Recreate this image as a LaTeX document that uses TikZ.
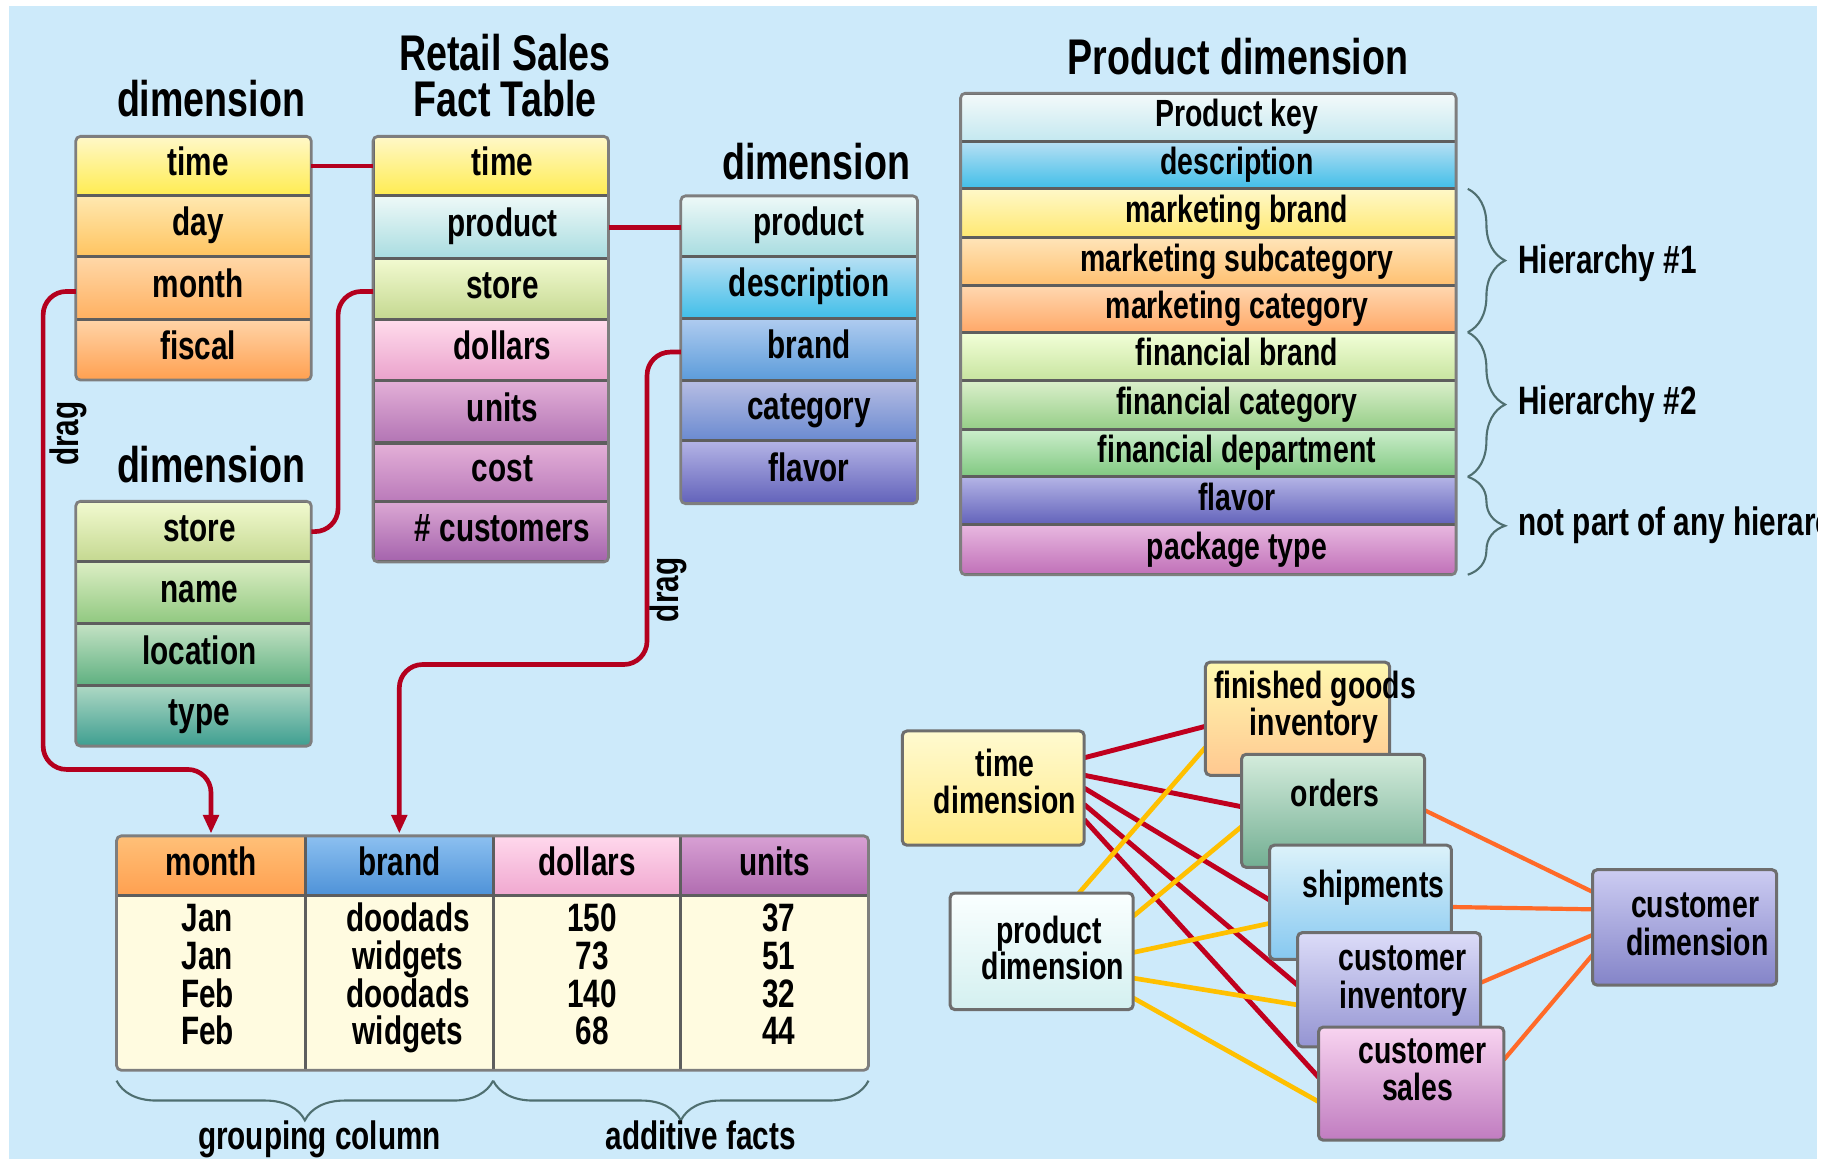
\documentclass[tikz,border=0pt]{standalone}
\usepackage{fontspec}
\setmainfont{Liberation Sans}[FakeStretch=0.75]
\usetikzlibrary{arrows.meta,decorations.pathreplacing}
\pgfdeclarelayer{bg}
\pgfdeclarelayer{links}
\pgfsetlayers{bg,links,main}

% general colours
\definecolor{bgblue}{HTML}{CDEAFA}
\definecolor{sepgray}{HTML}{5E5E5E}
\definecolor{framegray}{HTML}{7E7E7E}
\definecolor{netgray}{HTML}{6E6E6E}
\definecolor{linkred}{HTML}{B4001E}
\definecolor{netred}{HTML}{C0001E}
\definecolor{netgold}{HTML}{FFC000}
\definecolor{netorange}{HTML}{FF6A28}
\definecolor{bracegray}{HTML}{4F6F70}
\definecolor{cream}{HTML}{FFFBE0}
% row colours (top / bottom of each gradient)
\definecolor{yelT}{HTML}{FFF8C8}\definecolor{yelB}{HTML}{FFEC50}
\definecolor{dayT}{HTML}{FFE8B0}\definecolor{dayB}{HTML}{FFC460}
\definecolor{monT}{HTML}{FFD8A8}\definecolor{monB}{HTML}{FFB060}
\definecolor{fisT}{HTML}{FFD4A8}\definecolor{fisB}{HTML}{FFA050}
\definecolor{prdT}{HTML}{EEF9F8}\definecolor{prdB}{HTML}{A8DCE0}
\definecolor{stoT}{HTML}{F2FAD0}\definecolor{stoB}{HTML}{C4D890}
\definecolor{dolT}{HTML}{FFDCEC}\definecolor{dolB}{HTML}{EAA2CC}
\definecolor{uniT}{HTML}{E4B0D8}\definecolor{uniB}{HTML}{B274B4}
\definecolor{cstT}{HTML}{E4B0D8}\definecolor{cstB}{HTML}{BA7ABA}
\definecolor{cusT}{HTML}{DCA8D4}\definecolor{cusB}{HTML}{A462AC}
\definecolor{desT}{HTML}{B8E0F4}\definecolor{desB}{HTML}{40BEE8}
\definecolor{brnT}{HTML}{B0CCF0}\definecolor{brnB}{HTML}{5C9CDA}
\definecolor{catT}{HTML}{B8BEE4}\definecolor{catB}{HTML}{6A8AD0}
\definecolor{flvT}{HTML}{B4B4E6}\definecolor{flvB}{HTML}{6262BA}
\definecolor{namT}{HTML}{DCEEC4}\definecolor{namB}{HTML}{90C880}
\definecolor{locT}{HTML}{C4E2C4}\definecolor{locB}{HTML}{5EB080}
\definecolor{typT}{HTML}{AED8C4}\definecolor{typB}{HTML}{3E9E90}
\definecolor{pkT}{HTML}{F4FAFA}\definecolor{pkB}{HTML}{C4E8F0}
\definecolor{mbT}{HTML}{FFF8C8}\definecolor{mbB}{HTML}{FFE870}
\definecolor{msT}{HTML}{FFE4B8}\definecolor{msB}{HTML}{FFC070}
\definecolor{mcT}{HTML}{FFD8B0}\definecolor{mcB}{HTML}{FFA868}
\definecolor{fbT}{HTML}{F2FFD8}\definecolor{fbB}{HTML}{C8E4A0}
\definecolor{fcT}{HTML}{DCF0CC}\definecolor{fcB}{HTML}{96CE88}
\definecolor{fdT}{HTML}{CCEECC}\definecolor{fdB}{HTML}{80C880}
\definecolor{ptT}{HTML}{E8B8E0}\definecolor{ptB}{HTML}{C070B8}
\definecolor{bmT}{HTML}{FFC078}\definecolor{bmB}{HTML}{FFA050}
\definecolor{bbT}{HTML}{8CC0F0}\definecolor{bbB}{HTML}{4E92D8}
\definecolor{bdT}{HTML}{FFD8EC}\definecolor{bdB}{HTML}{F0A8D0}
\definecolor{buT}{HTML}{D8A0D4}\definecolor{buB}{HTML}{B06CB0}
% network boxes
\definecolor{tmT}{HTML}{FFFAD0}\definecolor{tmB}{HTML}{FFEA88}
\definecolor{fgT}{HTML}{FFF8B0}\definecolor{fgB}{HTML}{FFC890}
\definecolor{orT}{HTML}{D4ECDC}\definecolor{orB}{HTML}{72AE92}
\definecolor{shT}{HTML}{DCF2FA}\definecolor{shB}{HTML}{86C8F0}
\definecolor{ciT}{HTML}{DCDCF8}\definecolor{ciB}{HTML}{9494D2}
\definecolor{csT}{HTML}{F8D4F0}\definecolor{csB}{HTML}{C07CC0}
\definecolor{pdT}{HTML}{FAFFFF}\definecolor{pdB}{HTML}{D4F0F0}
\definecolor{cdT}{HTML}{CCCCF2}\definecolor{cdB}{HTML}{8484C8}

% a table of shaded rows: left x, right x, text x, top y, bottom y, rows
\newcommand\rowtable[6]{%
  \begin{scope}
    \clip[rounded corners=2pt] (#1,#4) rectangle (#2,#5);
    \pgfmathsetmacro\rw{(#2-#1)/2}
    \foreach \nm/\ya/\yb/\ct/\cb/\tx in {#6}{
      \pgfmathsetmacro\rh{(\yb-\ya)/2}
      \node[cell,top color=\ct,bottom color=\cb,minimum width=\rw pt,minimum height=\rh pt] (\nm) at (#1,\ya) {};
      \node[ctext] (\nm-t) at (#3,{(\ya+\yb)/2}) {\tx};
    }
  \end{scope}
  \draw[frame] (#1,#4) rectangle (#2,#5);
}

\begin{document}
\begin{tikzpicture}[x=0.5pt,y=-0.5pt,
  cell/.style={draw=sepgray,line width=1.3pt,inner sep=0pt,outer sep=0pt,anchor=north west},
  frame/.style={draw=framegray,line width=1.2pt,rounded corners=2pt},
  ctext/.style={font=\fontsize{17}{17}\selectfont\bfseries,inner sep=0pt,text height=0.95em,text depth=0.13em},
  ttext/.style={font=\fontsize{21.5}{21.5}\selectfont\bfseries,inner sep=0pt,text height=0.95em,text depth=0.13em},
  ntext/.style={font=\fontsize{16.25}{16.25}\selectfont\bfseries,inner sep=0pt,text height=0.95em,text depth=0.13em},
  nbox/.style={draw=netgray,line width=1.3pt,rounded corners=2pt,inner sep=0pt,outer sep=0pt,anchor=north west},
  link/.style={draw=linkred,line width=2pt},
  arrowed/.style={-{Triangle[length=8pt,width=6.5pt]},shorten >=1pt},
  brc/.style={decorate,decoration={brace,amplitude=#1},draw=bracegray,line width=0.9pt},
  nred/.style={draw=netred,line width=2.1pt},
  ngold/.style={draw=netgold,line width=2pt},
  norange/.style={draw=netorange,line width=1.8pt}]

\begin{pgfonlayer}{bg}
  \fill[white] (0,0) rectangle (1568,994);
  \fill[bgblue] (7.7,5.1) rectangle (1558.6,994);
\end{pgfonlayer}
\useasboundingbox (0,0) rectangle (1568,994);
\clip (7.7,5.1) rectangle (1558.6,994);

% ---------- titles ----------
\node[ttext] (tdtitle) at (181,92) {dimension};
\node[ttext] (ftitle1) at (433,52) {Retail Sales};
\node[ttext] (ftitle2) at (433,92) {Fact Table};
\node[ttext] (pdtitle) at (700,146) {dimension};
\node[ttext] (sdtitle) at (181,406) {dimension};
\node[ttext] (pbtitle) at (1062,56) {Product dimension};

% ---------- time dimension ----------
\rowtable{65}{267}{170}{117}{326}{tdtime/117/168/yelT/yelB/time, tdday/168/220/dayT/dayB/day, tdmonth/220/274/monT/monB/month, tdfiscal/274/326/fisT/fisB/fiscal}

% ---------- fact table ----------
\rowtable{320}{522}{431}{117}{482}{ftime/117/168/yelT/yelB/time, fproduct/168/222/prdT/prdB/product, fstore/222/274/stoT/stoB/store, fdollars/274/326/dolT/dolB/dollars, funits/326/380/uniT/uniB/units, fcost/380/430/cstT/cstB/cost, fcust/430/482/cusT/cusB/\# customers}

% ---------- product dimension (small) ----------
\rowtable{584}{787}{694}{168}{432}{pdproduct/168/220/prdT/prdB/product, pddesc/220/273/desT/desB/description, pdbrand/273/326/brnT/brnB/brand, pdcat/326/378/catT/catB/category, pdflavor/378/432/flvT/flvB/flavor}

% ---------- store dimension ----------
\rowtable{65}{267}{171}{430}{640}{sdstore/430/482/stoT/stoB/store, sdname/482/535/namT/namB/name, sdloc/535/588/locT/locB/location, sdtype/588/640/typT/typB/type}

% ---------- product dimension (full) ----------
\begin{scope}[ctext/.append style={font=\fontsize{16.25}{16.25}\selectfont\bfseries}]
\rowtable{824}{1249}{1061}{80}{493}{pbkey/80/121/pkT/pkB/Product key, pbdesc/121/162/desT/desB/description, pbmbrand/162/204/mbT/mbB/marketing brand, pbmsub/204/245/msT/msB/marketing subcategory, pbmcat/245/285/mcT/mcB/marketing category, pbfbrand/285/326/fbT/fbB/financial brand, pbfcat/326/368/fcT/fcB/financial category, pbfdept/368/409/fdT/fdB/financial department, pbflavor/409/450/flvT/flvB/flavor, pbpack/450/493/ptT/ptB/package type}
\end{scope}

% hierarchy braces
\draw[brc=16pt] ([xshift=5pt]pbmbrand.north east) -- ([xshift=5pt]pbmcat.south east);
\draw[brc=16pt] ([xshift=5pt]pbfbrand.north east) -- ([xshift=5pt]pbfdept.south east);
\draw[brc=16pt] ([xshift=5pt]pbflavor.north east) -- ([xshift=5pt]pbpack.south east);
\node[ctext,anchor=west] (hier1) at (1302,226) {Hierarchy \#1};
\node[ctext,anchor=west] (hier2) at (1302,347) {Hierarchy \#2};
\node[ctext,anchor=west] (hier3) at (1302,451) {not part of any hierarchy};

% ---------- result table ----------
\begin{scope}
  \clip[rounded corners=2pt] (100,717) rectangle (745,918);
  \foreach \nm/\xa/\xb/\ct/\cb/\tx in {bmonth/100/262/bmT/bmB/month, bbrand/262/423/bbT/bbB/brand, bdollars/423/584/bdT/bdB/dollars, bunits/584/745/buT/buB/units}{
    \pgfmathsetmacro\cw{(\xb-\xa)/2}
    \node[cell,top color=\ct,bottom color=\cb,minimum width=\cw pt,minimum height=25.5pt] (\nm) at (\xa,717) {};
    \node[cell,fill=cream,minimum width=\cw pt,minimum height=75pt] (\nm-body) at (\xa,768) {};
    \node[ctext] (\nm-t) at ({(\xa+\xb)/2},743) {\tx};
  }
\end{scope}
\draw[frame] (100,717) rectangle (745,918);
\foreach \col/\cx/\ra/\rb/\rc/\rd in {1/178/Jan/Jan/Feb/Feb, 2/350/doodads/widgets/doodads/widgets, 3/508/150/73/140/68, 4/668/37/51/32/44}{
  \node[ctext] (cell\col-1) at (\cx,791) {\ra};
  \node[ctext] (cell\col-2) at (\cx,823) {\rb};
  \node[ctext] (cell\col-3) at (\cx,856) {\rc};
  \node[ctext] (cell\col-4) at (\cx,888) {\rd};
}
\draw[brc=17pt] ([yshift=-4.5pt]bbrand-body.south east) -- ([yshift=-4.5pt]bmonth-body.south west);
\draw[brc=17pt] ([yshift=-4.5pt]bunits-body.south east) -- ([yshift=-4.5pt]bdollars-body.south west);
\node[ctext] (grouping) at (274,978) {grouping column};
\node[ctext] (additive) at (601,978) {additive facts};

% ---------- joins and drag paths ----------
\draw[link] (tdtime.east) -- (ftime.west);
\draw[link] (fproduct.east) -- (pdproduct.west |- fproduct.east);
\draw[link,rounded corners=10pt] (sdstore.east) -- (290,456) -- (290,250) -- (fstore.west |- 0,250);
\draw[link,arrowed,rounded corners=10pt] (tdmonth.west |- 0,250) -- (37,250) -- (37,660) -- (bmonth.north |- 0,660) -- (bmonth.north);
\draw[link,arrowed,rounded corners=10pt] (pdbrand.west |- 0,302) -- (555,302) -- (555,570) -- (bbrand.north |- 0,570) -- (bbrand.north);
\node[ctext,rotate=90] (drag1) at (59,372) {drag};
\node[ctext,rotate=90] (drag2) at (574,506) {drag};

% ---------- dimensions shared between fact tables ----------
\foreach \nm/\xa/\ya/\xb/\yb/\ct/\cb in {nfg/1034/568/1192/665/fgT/fgB, norders/1065/647/1222/744/orT/orB, nship/1089/725/1245/823/shT/shB, ncinv/1113/800/1270/898/ciT/ciB, ncsales/1131/881/1290/978/csT/csB, ntime/774/627/930/725/tmT/tmB, nprod/815/766/972/866/pdT/pdB, ncust/1366/746/1524/845/cdT/cdB}{
  \pgfmathsetmacro\bw{(\xb-\xa)/2}
  \pgfmathsetmacro\bh{(\yb-\ya)/2}
  \node[nbox,top color=\ct,bottom color=\cb,minimum width=\bw pt,minimum height=\bh pt] (\nm) at (\xa,\ya) {};
}
\foreach \nm/\tx/\ty/\tt in {ntime-t1/862/658/time, ntime-t2/862/690/dimension, nfg-t1/1128/591/finished goods, nfg-t2/1127/623/inventory, norders-t/1145/684/orders, nship-t/1178/762/shipments, ncinv-t1/1203/824/customer, ncinv-t2/1204/857/inventory, ncsales-t1/1220/904/customer, ncsales-t2/1216/936/sales, nprod-t1/900/801/product, nprod-t2/903/832/dimension, ncust-t1/1454/779/customer, ncust-t2/1456/811/dimension}{
  \node[ntext] (\nm) at (\tx,\ty) {\tt};
}

\begin{pgfonlayer}{links}
  \draw[nred] (ntime.east |- 0,650) -- (nfg.west |- 0,623);
  \draw[nred] (ntime.east |- 0,665) -- (norders.west |- 0,692);
  \draw[nred] (ntime.east |- 0,676) -- (nship.west |- 0,772);
  \draw[nred] (ntime.east |- 0,690) -- (ncinv.west |- 0,845);
  \draw[nred] (ntime.east |- 0,703) -- (ncsales.west |- 0,924);
  \draw[ngold] ([xshift=16pt]nprod.north) -- (nfg.west |- 0,641);
  \draw[ngold] (nprod.east |- 0,786) -- (norders.west |- 0,709);
  \draw[ngold] (nprod.east |- 0,817) -- (nship.west |- 0,792);
  \draw[ngold] (nprod.east |- 0,839) -- (ncinv.west |- 0,862);
  \draw[ngold] (nprod.east |- 0,856) -- (ncsales.west |- 0,945);
  \draw[norange] (norders.east |- 0,695) -- (ncust.west |- 0,765);
  \draw[norange] (nship.east |- 0,778) -- (ncust.west |- 0,780);
  \draw[norange] (ncinv.east |- 0,843) -- (ncust.west |- 0,802);
  \draw[norange] (ncsales.east |- 0,909) -- (ncust.west |- 0,819);
\end{pgfonlayer}
\end{tikzpicture}
\end{document}
